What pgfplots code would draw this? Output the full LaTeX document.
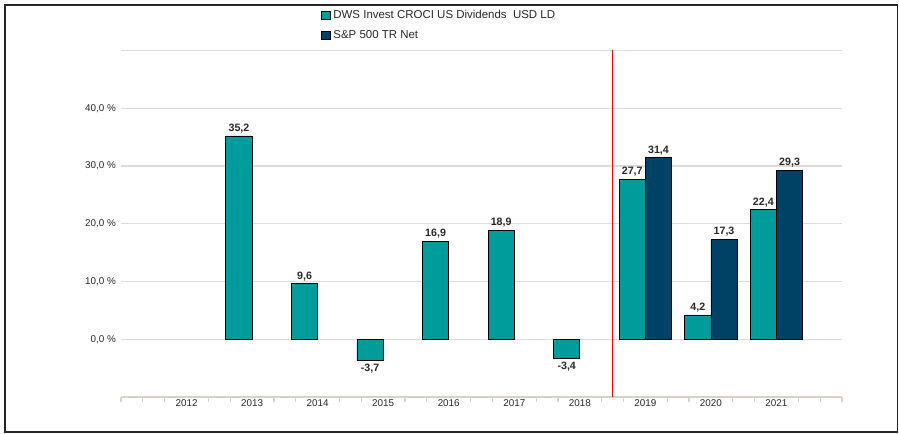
\documentclass[border=0pt]{standalone}
\usepackage{pgfplots}
\pgfplotsset{compat=1.18}
\usepackage{fontspec}
\setmainfont{Liberation Sans}
\definecolor{teal1}{RGB}{0,155,155}
\definecolor{navy1}{RGB}{0,66,102}
\definecolor{gridc}{RGB}{222,220,214}
\definecolor{axc}{RGB}{214,210,200}
\definecolor{txt}{RGB}{40,40,40}
\begin{document}
\begin{tikzpicture}[x=0.75pt,y=0.75pt]
\useasboundingbox (0,0) rectangle (899,433);
\fill[white] (0,0) rectangle (899,433);
\draw[line width=1.3pt, black!85] (5,1) rectangle (897.5,428);
\begin{axis}[
  at={(90.75pt,27pt)}, anchor=south west,
  scale only axis, width=540.75pt, height=259.9pt,
  xmin=-1, xmax=10, ymin=-10, ymax=50,
  axis x line*=bottom, axis y line*=left,
  y axis line style={draw=none},
  x axis line style={draw=axc, line width=1.5pt},
  ytick={0,10,20,30,40,50},
  yticklabels={{0,0 \%},{10,0 \%},{20,0 \%},{30,0 \%},{40,0 \%},{}},
  ytick style={draw=none},
  ymajorgrids, grid style={draw=gridc, line width=0.8pt},
  xtick={0,...,9},
  xticklabels={2012,2013,2014,2015,2016,2017,2018,2019,2020,2021},
  major x tick style={draw=none},
  minor xtick={-1,-0.6667,-0.3333,0.3333,0.6667,1.3333,1.6667,2.3333,2.6667,3.3333,3.6667,4.3333,4.6667,5.3333,5.6667,6.3333,6.6667,7.3333,7.6667,8.3333,8.6667,9.3333,9.6667,10},
  minor x tick style={draw=axc, line width=0.9pt},
  minor tick length=4pt,
  tick align=outside,
  xticklabel style={font=\fontsize{7.4}{8}\selectfont, text=txt, yshift=5.5pt},
  yticklabel style={font=\fontsize{7.4}{8}\selectfont, text=txt, xshift=4pt},
  ybar, bar width=0.4,
  visualization depends on={rawy \as \rawy},
  nodes near coords style={font=\bfseries\fontsize{8}{9}\selectfont, text=txt, inner sep=2pt,
    anchor={\ifdim \rawy pt<0pt north\else south\fi}},
  legend style={draw=none, fill=none, at={(0.272,1.132)}, anchor=north west,
    font=\fontsize{8.6}{10}\selectfont, row sep=3.2pt, text=txt},
  legend cell align=left,
  legend image code/.code={\draw[#1, draw=black, line width=0.6pt] (0pt,-3.2pt) rectangle (6.4pt,3.2pt);},
]
\addplot[fill=teal1, draw=black, line width=0.6pt, bar shift=-0.2,
  point meta=explicit symbolic, nodes near coords] coordinates {
  (1,35.2) [35,2]
  (2,9.6) [9,6]
  (3,-3.7) [-3,7]
  (4,16.9) [16,9]
  (5,18.9) [18,9]
  (6,-3.4) [-3,4]
  (7,27.7) [27,7]
  (8,4.2) [4,2]
  (9,22.4) [22,4]
};
\addlegendentry{DWS Invest CROCI US Dividends~ USD LD}
\addplot[fill=navy1, draw=black, line width=0.6pt, bar shift=0.2,
  point meta=explicit symbolic, nodes near coords] coordinates {
  (7,31.4) [31,4]
  (8,17.3) [17,3]
  (9,29.3) [29,3]
};
\addlegendentry{S\&P 500 TR Net}
\addplot[sharp plot, red, line width=0.8pt, forget plot, mark=none] coordinates {(6.5,-10) (6.5,50)};
\end{axis}
\end{tikzpicture}
\end{document}
